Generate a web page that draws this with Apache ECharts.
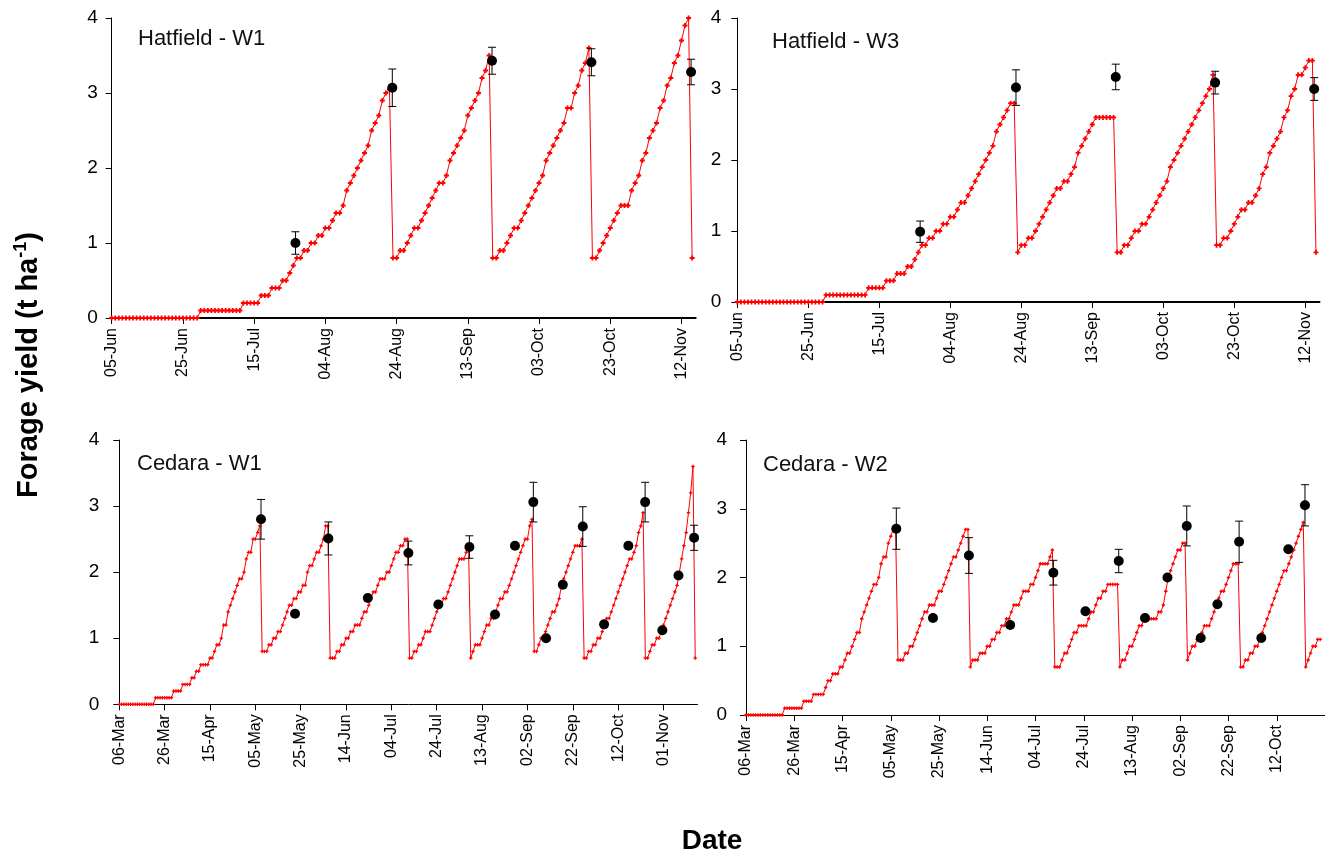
<!DOCTYPE html>
<html>
<head>
<meta charset="utf-8">
<script src="https://cdn.jsdelivr.net/npm/echarts@6/dist/echarts.min.js"></script>
<style>
  html, body { margin: 0; padding: 0; background: #fff; }
  #chart { width: 1325px; height: 854px; }
</style>
</head>
<body>
<div id="chart"></div>
<script>
// simulated forage yield, one value per day from the start date (t/ha)
var hatfieldW1Yield = [
  0,0,0,0,0,0,0,0,0,0, 0,0,0,0,0,0,0,0,0,0, 0,0,0,0,0,
  0.1,0.1,0.1,0.1,0.1,0.1,0.1,0.1,0.1,0.1,0.1,0.1,
  0.2,0.2,0.2,0.2,0.2, 0.3,0.3,0.3, 0.4,0.4,0.4, 0.5,0.5,
  0.6,0.7,0.8,0.8,0.9,0.9,1.0,1.0,1.1,1.1,1.2,1.2,1.3,1.4,1.4,1.5,1.7,1.8,1.9,2.0,2.1,2.2,2.3,2.5,2.6,2.7,2.9,3.0,3.05,
  0.8,0.8,0.9,0.9,1.0,1.1,1.2,1.2,1.3,1.4,1.5,1.6,1.7,1.8,1.8,1.9,2.1,2.2,2.3,2.4,2.5,2.7,2.8,2.9,3.0,3.2,3.3,3.5,
  0.8,0.8,0.9,0.9,1.0,1.1,1.2,1.2,1.3,1.4,1.5,1.6,1.7,1.8,1.9,2.1,2.2,2.3,2.4,2.5,2.6,2.8,2.8,3.0,3.1,3.3,3.4,3.6,
  0.8,0.8,0.9,1.0,1.1,1.2,1.3,1.4,1.5,1.5,1.5,1.7,1.8,1.9,2.1,2.2,2.4,2.5,2.6,2.8,2.9,3.1,3.2,3.4,3.5,3.7,3.9,4.0,
  0.8
];
var hatfieldW3Yield = [
  0,0,0,0,0,0,0,0,0,0, 0,0,0,0,0,0,0,0,0,0, 0,0,0,0,0,
  0.1,0.1,0.1,0.1,0.1,0.1,0.1,0.1,0.1,0.1,0.1,0.1,
  0.2,0.2,0.2,0.2,0.2, 0.3,0.3,0.3, 0.4,0.4,0.4, 0.5,0.5,
  0.6,0.7,0.8,0.8,0.9,0.9,1.0,1.0,1.1,1.1,1.2,1.2,1.3,1.4,1.4,1.5,1.6,1.7,1.8,1.9,2.0,2.1,2.2,2.4,2.5,2.6,2.7,2.8,2.8,
  0.7,
  0.8,0.8,0.9,0.9,1.0,1.1,1.2,1.3,1.4,1.5,1.6,1.6,1.7,1.7,1.8,1.9,2.1,2.2,2.3,2.4,2.5,2.6,2.6,2.6,2.6,2.6,2.6,
  0.7,
  0.7,0.8,0.8,0.9,1.0,1.0,1.1,1.1,1.2,1.3,1.4,1.5,1.6,1.7,1.9,2.0,2.1,2.2,2.3,2.4,2.5,2.6,2.7,2.8,2.9,3.0,3.2,
  0.8,
  0.8,0.9,0.9,1.0,1.1,1.2,1.3,1.3,1.4,1.4,1.5,1.6,1.8,1.9,2.1,2.2,2.3,2.4,2.6,2.7,2.9,3.0,3.2,3.2,3.3,3.4,3.4,
  0.7
];
var cedaraW1Yield = [
  0,0,0,0,0,0,0,0,0,0, 0,0,0,0,0,0,
  0.1,0.1,0.1,0.1,0.1,0.1,0.1,0.1, 0.2,0.2,0.2,0.2, 0.3,0.3,0.3,0.3, 0.4,0.4, 0.5,0.5, 0.6,0.6,0.6,0.6, 0.7,0.7,
  0.8,0.9,0.9,1.0,1.2,1.2,1.4,1.5,1.6,1.7,1.8,1.9,1.9,2.0,2.2,2.3,2.3,2.5,2.5,2.6,2.7,
  0.8,0.8,0.8,0.9,0.9,1.0,1.0,1.1,1.1,1.2,1.3,1.4,1.5,1.5,1.6,1.6,1.7,1.7,1.8,1.8,2.0,2.1,2.1,2.2,2.3,2.3,2.4,2.5,2.7,2.7,
  0.7,0.7,0.7,0.8,0.8,0.9,0.9,1.0,1.0,1.1,1.1,1.2,1.2,1.2,1.3,1.4,1.4,1.5,1.6,1.7,1.7,1.8,1.9,1.9,1.9,2.0,2.0,2.1,2.2,2.3,2.3,2.4,2.4,2.5,2.5,
  0.7,0.7,0.8,0.8,0.9,0.9,1.0,1.1,1.1,1.1,1.2,1.3,1.4,1.5,1.5,1.6,1.6,1.7,1.8,1.9,2.0,2.1,2.2,2.2,2.2,2.3,2.4,
  0.7,0.8,0.9,0.9,0.9,1.0,1.1,1.2,1.2,1.3,1.3,1.4,1.5,1.6,1.6,1.7,1.7,1.8,1.9,2.0,2.1,2.2,2.3,2.4,2.5,2.5,2.7,2.8,
  0.8,0.8,0.9,1.0,1.0,1.1,1.2,1.3,1.4,1.4,1.5,1.6,1.8,1.9,2.0,2.1,2.2,2.3,2.4,2.4,2.4,2.5,
  0.7,0.7,0.8,0.8,0.9,0.9,1.0,1.0,1.1,1.2,1.3,1.3,1.4,1.5,1.6,1.7,1.8,1.9,2.0,2.1,2.2,2.2,2.3,2.4,2.6,2.7,2.9,
  0.7,0.7,0.8,0.9,0.9,1.0,1.0,1.1,1.2,1.3,1.4,1.5,1.6,1.7,1.8,2.0,2.2,2.4,2.6,2.9,3.2,3.6,
  0.7
];
var cedaraW2Yield = [
  0,0,0,0,0,0,0,0,0,0, 0,0,0,0,0,0,
  0.1,0.1,0.1,0.1,0.1,0.1,0.1,0.1, 0.2,0.2,0.2,0.2, 0.3,0.3,0.3,0.3,0.3, 0.4, 0.5,0.5, 0.6,0.6,0.6, 0.7,0.7,
  0.8,0.9,0.9,1.0,1.1,1.2,1.2,1.4,1.5,1.6,1.7,1.8,1.9,1.9,2.0,2.2,2.3,2.3,2.5,2.6,2.7,2.7,
  0.8,0.8,0.8,0.9,0.9,1.0,1.0,1.1,1.2,1.3,1.4,1.5,1.5,1.6,1.6,1.6,1.7,1.8,1.8,1.9,2.0,2.1,2.2,2.3,2.3,2.4,2.5,2.6,2.7,2.7,
  0.7,0.8,0.8,0.8,0.9,0.9,0.9,1.0,1.0,1.1,1.1,1.2,1.2,1.3,1.3,1.4,1.4,1.5,1.6,1.6,1.6,1.7,1.8,1.8,1.8,1.9,1.9,2.0,2.1,2.2,2.2,2.2,2.2,2.3,2.4,
  0.7,0.7,0.7,0.8,0.9,0.9,1.0,1.1,1.2,1.2,1.3,1.3,1.3,1.3,1.4,1.5,1.5,1.6,1.7,1.7,1.8,1.8,1.9,1.9,1.9,1.9,1.9,
  0.7,0.8,0.8,0.9,1.0,1.0,1.1,1.2,1.3,1.3,1.4,1.4,1.4,1.4,1.4,1.4,1.5,1.5,1.6,1.8,2.0,2.1,2.2,2.3,2.4,2.4,2.5,2.5,
  0.8,0.9,1.0,1.0,1.1,1.1,1.2,1.3,1.3,1.3,1.4,1.5,1.6,1.7,1.8,1.8,1.9,2.0,2.1,2.2,2.2,2.2,
  0.7,0.7,0.8,0.8,0.9,0.9,1.0,1.0,1.1,1.2,1.3,1.4,1.5,1.6,1.7,1.8,1.9,2.0,2.1,2.1,2.2,2.3,2.4,2.5,2.6,2.7,2.8,
  0.7,0.8,0.9,1.0,1.0,1.1,1.1
];

// measured yield: day after start, mean, error (null = no bar)
var hatfieldW1ObsDay = [51.6, 78.8, 106.8, 134.7, 162.7];
var hatfieldW1Obs    = [1.0, 3.07, 3.43, 3.41, 3.28];
var hatfieldW1Err    = [0.15, 0.25, 0.18, 0.18, 0.17];

var hatfieldW3ObsDay = [51.5, 78.5, 106.6, 134.6, 162.5];
var hatfieldW3Obs    = [0.99, 3.02, 3.17, 3.09, 3.0];
var hatfieldW3Err    = [0.15, 0.25, 0.18, 0.16, 0.16];

var cedaraW1ObsDay = [62.5, 77.5, 92.2, 109.6, 127.5, 140.7, 154.4, 165.7, 174.5, 182.6, 188.2, 195.6, 204.4, 213.8, 224.5, 231.9, 239.5, 246.6, 253.5];
var cedaraW1Obs    = [2.8, 1.37, 2.51, 1.61, 2.29, 1.51, 2.38, 1.36, 2.4, 3.06, 1.0, 1.81, 2.69, 1.21, 2.4, 3.06, 1.12, 1.95, 2.52];
var cedaraW1Err    = [0.3, null, 0.25, null, 0.18, null, 0.17, null, null, 0.3, null, null, 0.3, null, null, 0.3, null, null, 0.19];

var cedaraW2ObsDay = [62.3, 77.5, 92.4, 109.5, 127.4, 140.7, 154.5, 165.4, 174.7, 182.7, 188.5, 195.4, 204.4, 213.6, 224.8, 231.7];
var cedaraW2Obs    = [2.71, 1.41, 2.32, 1.31, 2.07, 1.51, 2.24, 1.41, 2.0, 2.75, 1.12, 1.61, 2.52, 1.12, 2.41, 3.05];
var cedaraW2Err    = [0.3, null, 0.26, null, 0.18, null, 0.17, null, null, 0.29, null, null, 0.3, null, null, 0.3];

var panelTitles = ['Hatfield - W1', 'Hatfield - W3', 'Cedara - W1', 'Cedara - W2'];
var yTicks = [0, 1, 2, 3, 4];
var monthNames = ['Jan','Feb','Mar','Apr','May','Jun','Jul','Aug','Sep','Oct','Nov','Dec'];

var FONT = '"Liberation Sans", Arial, Helvetica, sans-serif';
var PLUS = 'path://M3.2,0H6.8V3.2H10V6.8H6.8V10H3.2V6.8H0V3.2H3.2Z';

var panels = [
  { yld: hatfieldW1Yield, day: hatfieldW1ObsDay, obs: hatfieldW1Obs, err: hatfieldW1Err,
    start: Date.UTC(2001, 5, 5), maxDay: 164,
    grid: { left: 111.7, top: 18, width: 584, height: 300 },
    title: [138, 39], labelMargin: 14, xLine: 2, mark: 5 },
  { yld: hatfieldW3Yield, day: hatfieldW3ObsDay, obs: hatfieldW3Obs, err: hatfieldW3Err,
    start: Date.UTC(2001, 5, 5), maxDay: 164,
    grid: { left: 737.3, top: 18, width: 582.2, height: 284 },
    title: [772, 42], labelMargin: 16, xLine: 2, mark: 5 },
  { yld: cedaraW1Yield, day: cedaraW1ObsDay, obs: cedaraW1Obs, err: cedaraW1Err,
    start: Date.UTC(2001, 2, 6), maxDay: 255,
    grid: { left: 119.3, top: 440, width: 578.2, height: 264.3 },
    title: [137, 464], labelMargin: 20, xLine: 1, mark: 3.5 },
  { yld: cedaraW2Yield, day: cedaraW2ObsDay, obs: cedaraW2Obs, err: cedaraW2Err,
    start: Date.UTC(2001, 2, 6), maxDay: 240,
    grid: { left: 746, top: 440, width: 580, height: 275 },
    title: [763, 465], labelMargin: 19, xLine: 1, mark: 3.5 }
];

function dateLabel(start) {
  return function (v) {
    if (v % 20 !== 0) return '';
    var d = new Date(start + v * 86400000);
    var dd = d.getUTCDate();
    return (dd < 10 ? '0' + dd : dd) + '-' + monthNames[d.getUTCMonth()];
  };
}

function errorBar(params, api) {
  var x = api.value(0);
  var lo = api.coord([x, api.value(1)]);
  var hi = api.coord([x, api.value(2)]);
  var st = { stroke: '#000', lineWidth: 1 };
  return {
    type: 'group',
    children: [
      { type: 'line', shape: { x1: lo[0], y1: lo[1], x2: hi[0], y2: hi[1] }, style: st },
      { type: 'line', shape: { x1: lo[0] - 4, y1: lo[1], x2: lo[0] + 4, y2: lo[1] }, style: st },
      { type: 'line', shape: { x1: hi[0] - 4, y1: hi[1], x2: hi[0] + 4, y2: hi[1] }, style: st }
    ]
  };
}

var grids = [], xAxes = [], yAxes = [], series = [], graphics = [];

panels.forEach(function (p, i) {
  grids.push(p.grid);
  xAxes.push({
    gridIndex: i, type: 'value', min: 0, max: p.maxDay, interval: 20,
    axisLine: { lineStyle: { color: '#000', width: p.xLine } },
    axisTick: { length: 6, lineStyle: { color: '#000', width: 1 } },
    splitLine: { show: false },
    axisLabel: { rotate: 90, fontSize: 16, color: '#000', fontFamily: FONT, margin: 10,
      showMaxLabel: false, formatter: dateLabel(p.start) }
  });
  yAxes.push({
    gridIndex: i, type: 'value', min: yTicks[0], max: yTicks[yTicks.length - 1], interval: 1,
    axisLine: { show: true, lineStyle: { color: '#000', width: 1 } },
    axisTick: { show: true, length: 6, lineStyle: { color: '#000' } },
    splitLine: { show: false },
    axisLabel: { fontSize: 19, color: '#000', fontFamily: FONT, margin: p.labelMargin }
  });

  series.push({
    type: 'line', xAxisIndex: i, yAxisIndex: i, z: 2,
    data: p.yld.map(function (v, d) { return [d, v]; }),
    symbol: PLUS, symbolSize: p.mark, showAllSymbol: true,
    lineStyle: { color: '#ff0000', width: 1 },
    itemStyle: { color: '#ff0000' }
  });

  var bars = [];
  p.day.forEach(function (d, k) {
    if (p.err[k] != null) bars.push([d, p.obs[k] - p.err[k], p.obs[k] + p.err[k]]);
  });
  series.push({
    type: 'custom', xAxisIndex: i, yAxisIndex: i, z: 3,
    renderItem: errorBar, encode: { x: 0, y: [1, 2] }, data: bars
  });

  series.push({
    type: 'scatter', xAxisIndex: i, yAxisIndex: i, z: 4,
    data: p.day.map(function (d, k) { return [d, p.obs[k]]; }),
    symbol: 'circle', symbolSize: 10,
    itemStyle: { color: '#000', opacity: 1 }
  });

  graphics.push({
    type: 'text', x: p.title[0], y: p.title[1], z: 10,
    style: { text: panelTitles[i], font: '22px ' + FONT, fill: '#111',
      textAlign: 'left', textVerticalAlign: 'middle', align: 'left', verticalAlign: 'middle' }
  });
});

graphics.push({
  type: 'text', x: 29, y: 365, rotation: Math.PI / 2, z: 10,
  style: {
    text: '{a|Forage yield (t ha}{b|-1}{a|)}',
    textAlign: 'center', textVerticalAlign: 'middle', align: 'center', verticalAlign: 'middle',
    rich: {
      a: { fontSize: 29, fontWeight: 'bold', fontFamily: FONT, fill: '#000', color: '#000', lineHeight: 34 },
      b: { fontSize: 18, fontWeight: 'bold', fontFamily: FONT, fill: '#000', color: '#000', verticalAlign: 'top', lineHeight: 34 }
    }
  }
});
graphics.push({
  type: 'text', x: 712, y: 841, z: 10,
  style: { text: 'Date', font: 'bold 28px ' + FONT, fill: '#000',
    textAlign: 'center', textVerticalAlign: 'middle', align: 'center', verticalAlign: 'middle' }
});

var chart = echarts.init(document.getElementById('chart'), null, { renderer: 'canvas' });
chart.setOption({
  animation: false,
  backgroundColor: '#fff',
  grid: grids,
  xAxis: xAxes,
  yAxis: yAxes,
  series: series,
  graphic: { elements: graphics }
});
window.addEventListener('resize', function () { chart.resize(); });
</script>
</body>
</html>
